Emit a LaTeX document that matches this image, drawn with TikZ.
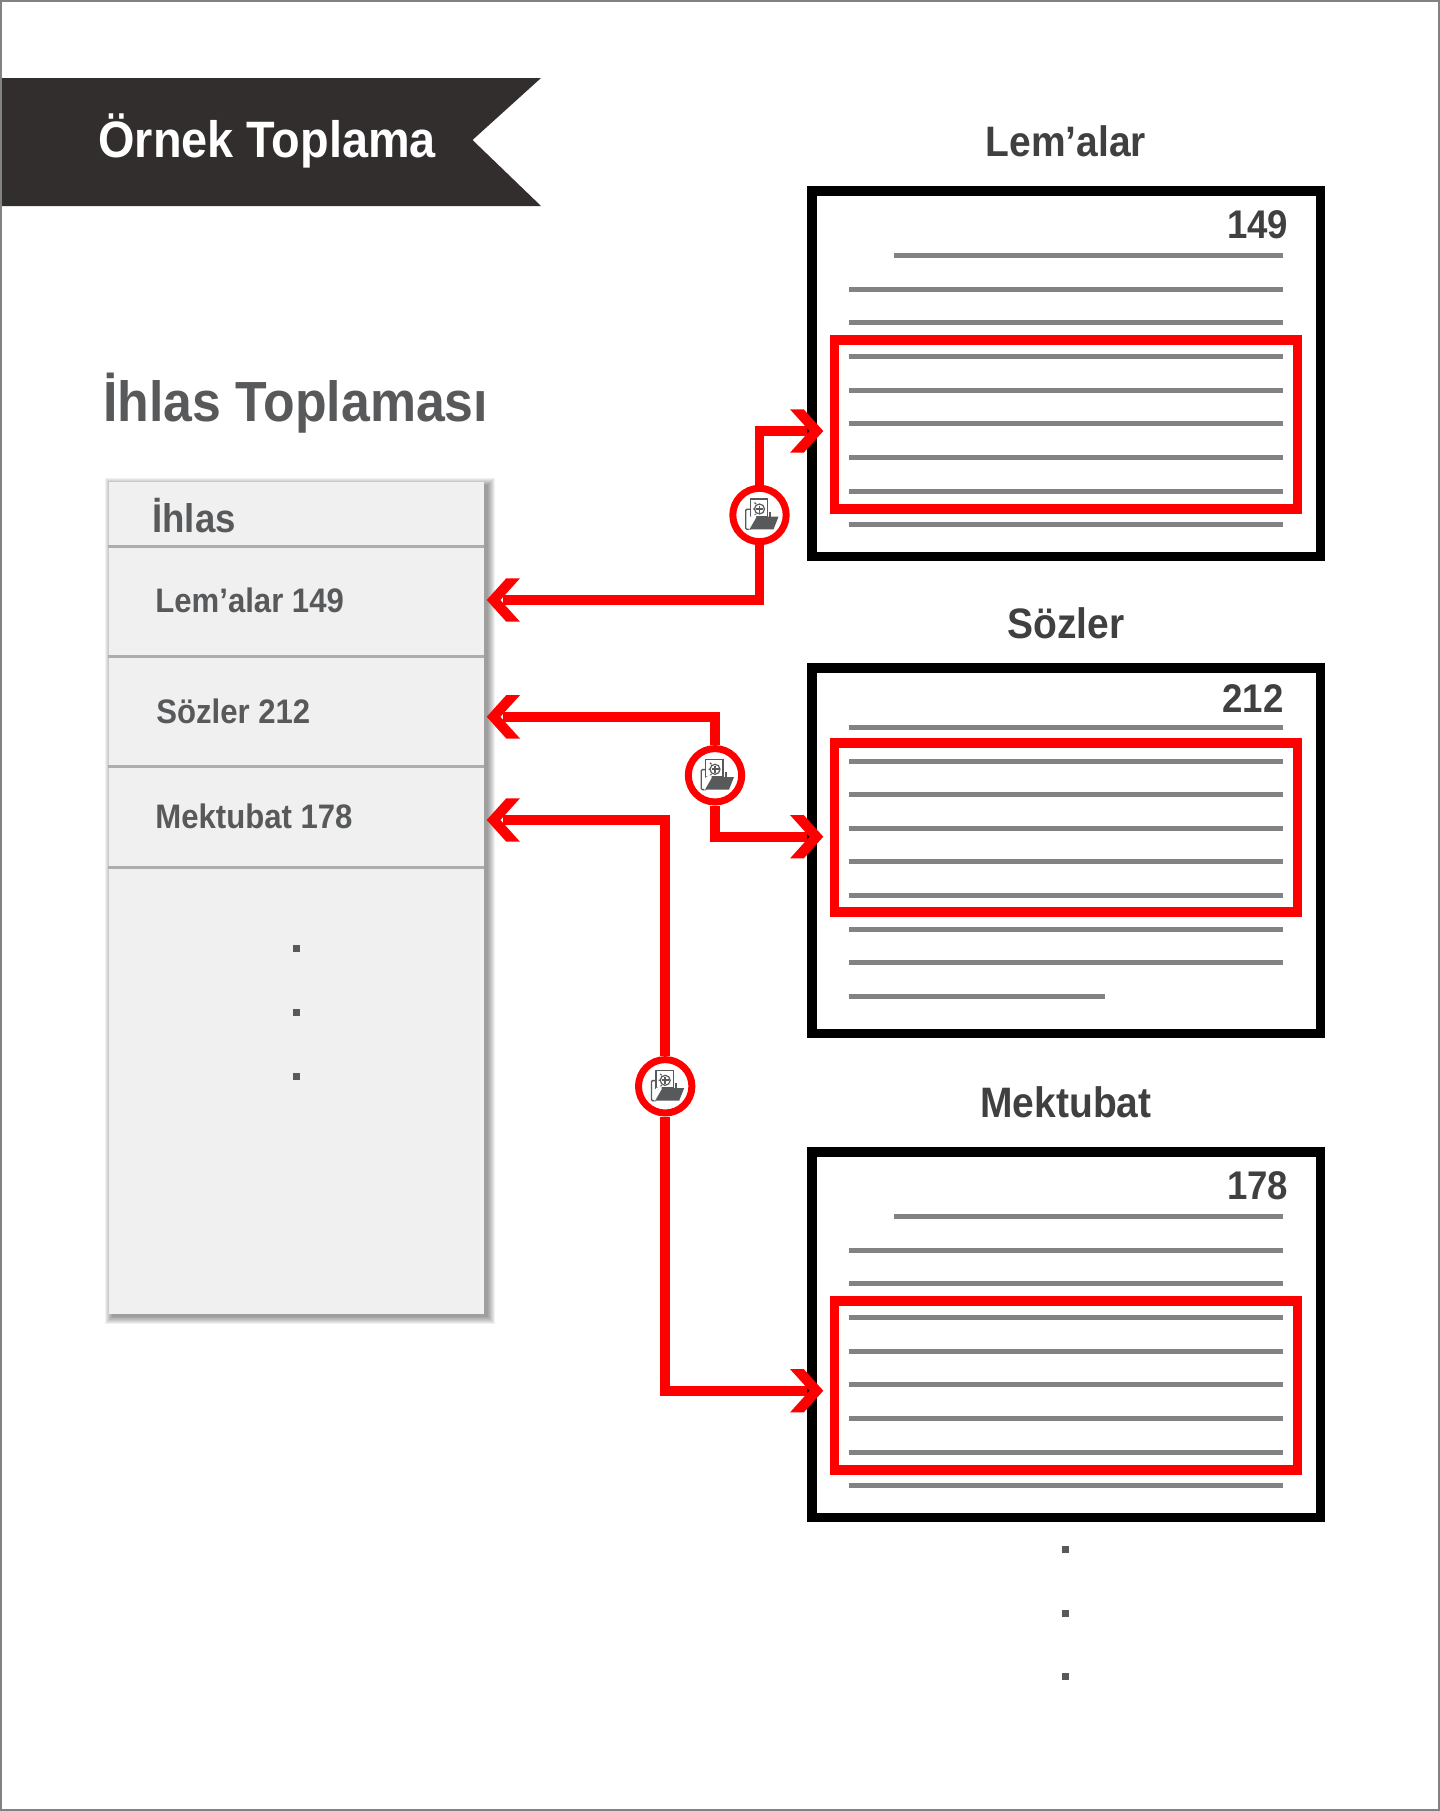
\documentclass[tikz,border=0pt]{standalone}
\usepackage{fontspec}
\setmainfont[FakeStretch=0.915]{Liberation Sans}
\definecolor{ban}{HTML}{312E2D}
\definecolor{txt}{HTML}{58595B}
\definecolor{txtd}{HTML}{404040}
\definecolor{gl}{HTML}{808284}
\definecolor{pan}{HTML}{F0F0F0}
\definecolor{sep}{HTML}{ADADAD}
\pgfdeclarearrow{
  name = Chev,
  setup code = {\pgfarrowssettipend{0pt}\pgfarrowssetlineend{-8pt}\pgfarrowssetbackend{-16.65pt}\pgfarrowssetvisualbackend{-8pt}},
  drawing code = {
    \pgfsetlinewidth{0pt}
    \pgfpathmoveto{\pgfqpoint{0pt}{0pt}}
    \pgfpathlineto{\pgfqpoint{-9.8pt}{10.85pt}}
    \pgfpathlineto{\pgfqpoint{-16.65pt}{10.85pt}}
    \pgfpathlineto{\pgfqpoint{-6.85pt}{0pt}}
    \pgfpathlineto{\pgfqpoint{-16.65pt}{-10.85pt}}
    \pgfpathlineto{\pgfqpoint{-9.8pt}{-10.85pt}}
    \pgfpathclose
    \pgfusepathqfill
  }
}
\tikzset{
 x=0.5pt,y=-0.5pt,
 pagebox/.style={draw=black,line width=4.8pt,fill=white},
 redbox/.style={draw=red,line width=4.8pt},
 gline/.style={draw=gl,line width=2.5pt},
 sepline/.style={draw=sep,line width=1.35pt},
 conn/.style={red,line width=4.8pt,line join=miter,-{Chev}},
 ring/.style={circle,draw=red,line width=3.5pt,fill=white,minimum size=26.7pt,inner sep=0pt},
 ttl/.style={text=txtd,font=\bfseries\fontsize{21.3}{21.3}\selectfont,inner sep=0pt,anchor=base},
 num/.style={text=txtd,font=\bfseries\fontsize{20}{20}\selectfont,inner sep=0pt,anchor=base east},
 item/.style={text=txt,font=\bfseries\fontsize{17}{17}\selectfont,inner sep=0pt,anchor=base west},
 dot/.style={fill=txt,minimum size=3.5pt,inner sep=0pt,draw=none},
}
\newcommand{\gl}[3]{\draw[gline] (#1,#3) -- (#2,#3);}
\newcommand{\folder}[1]{%
 \begin{scope}[shift={(#1)}]
 \draw[txt,line width=0.65pt,rounded corners=0.5pt] (-9,-5.7) -- (-13.7,-5.7) -- (-13.7,14.3) -- (-9,14.3);
 \draw[txt,line width=0.65pt,fill=white] (-9.3,-16) -- (8,-16) -- (8,1.7) -- (-9.3,1.7) -- cycle;
 \draw[txt,line width=0.6pt] (0,-6) circle (5);
 \draw[txt,line width=0.85pt] (0,-9.5) -- (0,-2.5) (-3.5,-6) -- (3.5,-6);
 \draw[txt,line width=0.6pt] (-6.5,-6) -- (-5,-6) (-3.5,-11) -- (-5,-12.5) (-3.5,-1) -- (-5,0.5);
 \draw[txt,line width=0.9pt] (10.7,-3.3) -- (10.7,1.7);
 \fill[white] (-9.3,1.7) -- (-3.5,-0.3) -- (-3.5,14.3) -- (-11,14.3) -- cycle;
 \fill[txt] (-10,14.3) -- (-2.7,1.7) -- (19,1.7) -- (14,14.3) -- cycle;
 \end{scope}}
\begin{document}
\begin{tikzpicture}
\useasboundingbox (0,0) rectangle (1440,1811);
\fill[white] (0,0) rectangle (1440,1811);
\draw[gl,line width=1pt] (1,1) rectangle (1439,1810);
% banner
\fill[ban] (2,78) -- (541,78) -- (472.5,140) -- (541,206) -- (2,206) -- cycle;
\node[text=white,font=\bfseries\fontsize{25.6}{25.6}\selectfont,anchor=base west,inner sep=0pt] (bt) at (98,157.5) {Örnek Toplama};
\node[text=txt,font=\bfseries\fontsize{28.3}{28.3}\selectfont,anchor=base west,inner sep=0pt] (it) at (103,421.6) {İhlas Toplaması};
% panel shadow
\foreach \r in {0,...,7} {\fill[black,opacity=0.055] (108.3+4-\r,482+3-\r) rectangle (484+4+\r,1314+3+\r);}
\node[fill=pan,minimum width=187.85pt,minimum height=416pt,inner sep=0pt,anchor=north west] (panel) at (108.3,482) {};
\draw[sepline] (108.3,546.3) -- (484,546.3);
\draw[sepline] (108.3,656.3) -- (484,656.3);
\draw[sepline] (108.3,766.3) -- (484,766.3);
\draw[sepline] (108.3,867.3) -- (484,867.3);
\node[item,font=\bfseries\fontsize{20}{20}\selectfont] (h0) at (152,532.7) {İhlas};
\node[item] (h1) at (155,612) {Lem’alar 149};
\node[item] (h2) at (156,723.7) {Sözler 212};
\node[item] (h3) at (155,828.7) {Mektubat 178};
\node[dot] (d1) at (296.5,948) {};
\node[dot] (d2) at (296.5,1012.6) {};
\node[dot] (d3) at (296.5,1076) {};
% page 1
\node[ttl] (t1) at (1066,156.5) {Lem’alar};
\draw[pagebox] (811.7,190.7) rectangle (1320.3,556.4);
\node[num] (n1) at (1288.5,238.3) {149};
\gl{894}{1283}{255.7}
\foreach \yy in {289.3,322.8,356.3,390,423.3,457.3,491.3,524.3} {\gl{849}{1283}{\yy}}
\draw[redbox] (834.6,339.7) rectangle (1297.4,509.2);
% page 2
\node[ttl] (t2) at (1066,638) {Sözler};
\draw[pagebox] (811.7,667.7) rectangle (1320.3,1033.5);
\node[num] (n2) at (1284,712.7) {212};
\foreach \yy in {727.5,761,794.5,828,861.5,895.3,929,962.3} {\gl{849}{1283}{\yy}}
\gl{849}{1105}{996.7}
\draw[redbox] (834.6,743) rectangle (1297.4,912);
% page 3
\node[ttl] (t3) at (1066,1117) {Mektubat};
\draw[pagebox] (811.7,1152) rectangle (1320.3,1517.5);
\node[num] (n3) at (1288.5,1199.5) {178};
\gl{894}{1283}{1216.7}
\foreach \yy in {1250.3,1283.7,1317.3,1351.3,1384.3,1418.3,1452.5,1485} {\gl{849}{1283}{\yy}}
\draw[redbox] (834.6,1300.7) rectangle (1297.4,1470);
\node[dot] (d4) at (1065,1549.6) {};
\node[dot] (d5) at (1065,1613) {};
\node[dot] (d6) at (1065,1676.6) {};
% connector ends
\coordinate (p1) at (823.3,431);
\coordinate (p2) at (823.3,836.7);
\coordinate (p3) at (823.3,1390.7);
\coordinate (l1) at (486.7,600);
\coordinate (l2) at (486.7,716.8);
\coordinate (l3) at (486.7,820);
% rings
\node[ring] (r1) at (759.5,515) {};
\node[ring] (r2) at (715,775.3) {};
\node[ring] (r3) at (665.2,1086.3) {};
% connectors
\draw[conn] (r1.north) |- (p1);
\draw[conn] (r1.south) |- (l1);
\draw[conn] (r2.north) |- (l2);
\draw[conn] (r2.south) |- (p2);
\draw[conn] (r3.north) |- (l3);
\draw[conn] (r3.south) |- (p3);
\folder{r1}
\folder{r2}
\folder{r3}
\end{tikzpicture}
\end{document}
